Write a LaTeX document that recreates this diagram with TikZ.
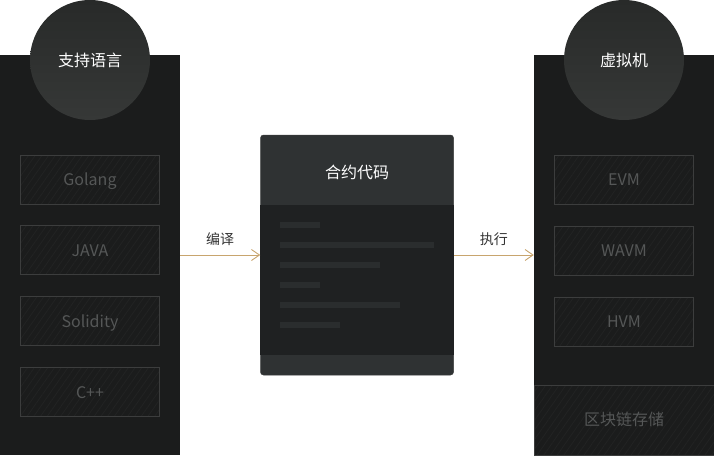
\documentclass[tikz,border=0pt]{standalone}
\usepackage{fontspec}
\setmainfont{Noto Sans CJK SC}
\usetikzlibrary{positioning}
\usetikzlibrary{arrows.meta}
\usetikzlibrary{patterns.meta}
\definecolor{panelbg}{HTML}{1B1C1C}
\definecolor{badgetop}{HTML}{282A29}
\definecolor{badgebottom}{HTML}{363837}
\definecolor{itemline}{HTML}{3C3D3D}
\definecolor{itemhatch}{HTML}{222323}
\definecolor{itemtext}{HTML}{555757}
\definecolor{cardhead}{HTML}{2F3233}
\definecolor{cardbody}{HTML}{1F2122}
\definecolor{codeline}{HTML}{2A2D2E}
\definecolor{flowline}{HTML}{C8A56E}
\definecolor{flowtext}{HTML}{333333}
\tikzset{
	panel/.style={
		rectangle,
		fill=panelbg,
		minimum width=180pt,
		minimum height=400pt,
		inner sep=0pt
	},
	badge/.style={
		circle,
		top color=badgetop,
		bottom color=badgebottom,
		minimum size=120pt,
		inner sep=0pt,
		text=white,
		font=\fontsize{16}{16}\selectfont
	},
	item/.style={
		rectangle,
		draw=itemline,
		line width=1pt,
		pattern={Lines[angle=55,distance=5.5pt,line width=0.8pt]},
		pattern color=itemhatch,
		minimum width=139pt,
		minimum height=49pt,
		text height=11.7pt,
		text depth=0pt,
		text=itemtext,
		font=\fontsize{16}{16}\selectfont
	},
	flow/.style={
		-{Straight Barb[length=8pt,width=11pt]},
		draw=flowline,
		line width=0.9pt
	}
}

\begin{document}
\begin{tikzpicture}[x=1pt,y=-1pt]
		\useasboundingbox (0,0) rectangle (714,455);
		
		% supported languages
		\draw node[panel](LangPanel) at (90,255){};
		\draw node[badge](LangBadge) at (90,60){支持语言};
		\draw node[item](Golang) at (90,179.5){Golang};
		\draw node[item, below=21pt of Golang](Java){JAVA};
		\draw node[item, below=21pt of Java](Solidity){Solidity};
		\draw node[item, below=21pt of Solidity](Cpp){C++};
		
		% virtual machines
		\draw node[panel](VmPanel) at (624,255){};
		\draw node[badge](VmBadge) at (624,60){虚拟机};
		\draw node[item](Evm) at (624,179.5){EVM};
		\draw node[item, below=21pt of Evm](Wavm){WAVM};
		\draw node[item, below=21pt of Wavm](Hvm){HVM};
		\draw node[item, minimum width=180pt, minimum height=70pt](Storage) at (624,420){区块链存储};
		
		% contract code
		\draw node[rectangle, fill=cardhead, draw=itemline, line width=0.5pt, rounded corners=3pt, minimum width=193pt, minimum height=240pt, inner sep=0pt](Card) at (357,255){};
		\fill[cardbody] (260.25,205) rectangle (453.75,355);
		\foreach \y/\w in {222/40,242/154,262/100,282/40,302/120,322/60}
			\fill[codeline] (280,\y) rectangle ++(\w,6);
		\draw node[text=white, font=\fontsize{16}{16}\selectfont](CardTitle) at (357,172){合约代码};
		
		\draw [flow] (LangPanel) -- node[above=6pt, text=flowtext, font=\fontsize{14}{14}\selectfont]{编译} (Card);
		\draw [flow] (Card) -- node[above=6pt, text=flowtext, font=\fontsize{14}{14}\selectfont]{执行} (VmPanel);
	\end{tikzpicture}
\end{document}
